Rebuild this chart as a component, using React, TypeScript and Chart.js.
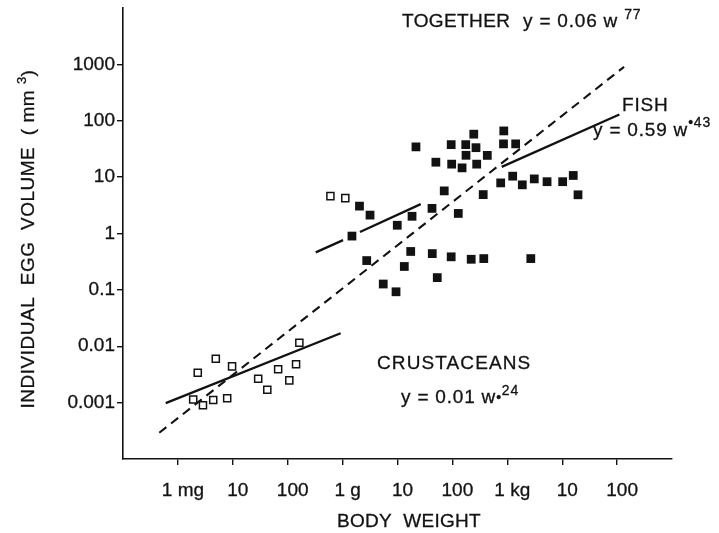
import React, { useEffect, useRef } from "react";
import { Chart, registerables } from "chart.js";

Chart.register(...registerables);

// Body weight in grams, individual egg volume in mm³.
const crustaceanWeight = [0.0023, 0.0049, 0.0097, 0.0019, 0.00286, 0.0044, 0.0079, 0.029, 0.0425, 0.067, 0.107, 0.142, 0.163, 0.6, 1.12];
const crustaceanEggVolume = [0.0034, 0.006, 0.0044, 0.00114, 0.0009, 0.00111, 0.0012, 0.00265, 0.00169, 0.0039, 0.00248, 0.0048, 0.0115, 4.6, 4.24];

const fishWeight = [
  2.03, 3.16, 1.48, 9.9, 18.4, 42.5, 71, 2.75, 17.4, 13.3, 43, 95, 5.5, 9.4, 53,
  50, 97, 128, 220, 373, 2680, 245, 863, 95, 175, 269, 853, 1420, 177, 432,
  150, 277, 364, 758, 1254, 1876, 3100, 5300, 10200, 15900, 19400, 21.7,
];
const fishEggVolume = [
  3.06, 2.12, 0.9, 1.4, 2.02, 2.79, 5.7, 0.331, 0.48, 0.26, 0.44, 0.386, 0.127, 0.0925, 0.165,
  18.4, 17.0, 2.27, 0.349, 0.359, 0.359, 57.8, 66, 37.7, 37.7, 33.3, 38.9, 38.9, 24.4, 24.3,
  14.6, 17.0, 4.9, 7.9, 10.4, 7.3, 9.3, 8.3, 8.3, 10.7, 4.86, 34.4,
];

// Fitted power laws, as end points of the drawn segments (null = break in the line).
const crustaceanFitWeight = [0.0006, 0.92];
const crustaceanFitVolume = [0.00098, 0.017];
const fishFitWeight = [0.324, 1.02, 1.5, 2.07, 26.5, 150, 791, 110000];
const fishFitVolume = [0.462, 0.764, null, 1.06, 3.32, null, 15.2, 129];
const togetherFitWeight = [0.000458, 134000];
const togetherFitVolume = [0.000292, 903];

const weightTicks = [0.001, 0.01, 0.1, 1, 10, 100, 1000, 10000, 100000];
const weightTickLabels = ["1 mg", "10", "100", "1 g", "10", "100", "1 kg", "10", "100"];
const volumeTicks = [0.001, 0.01, 0.1, 1, 10, 100, 1000];
const volumeTickLabels = ["0.001", "0.01", "0.1", "1", "10", "100", "1000"];

const FONT = "'Liberation Sans', Arial, Helvetica, sans-serif";
const INK = "#121212";
const TEXT_STROKE = 0.3;

const pairs = (xs: number[], ys: (number | null)[]) => xs.map((x, i) => ({ x, y: ys[i] }));

type Part = { text: string; size: number; rise?: number };

function drawRich(ctx: CanvasRenderingContext2D, x: number, y: number, parts: Part[], spacing = 0.8) {
  let cx = x;
  ctx.textBaseline = "alphabetic";
  ctx.textAlign = "left";
  ctx.lineWidth = TEXT_STROKE;
  ctx.strokeStyle = INK;
  (ctx as any).letterSpacing = `${spacing}px`;
  for (const p of parts) {
    ctx.font = `${p.size}px ${FONT}`;
    ctx.fillText(p.text, cx, y - (p.rise || 0));
    ctx.strokeText(p.text, cx, y - (p.rise || 0));
    cx += ctx.measureText(p.text).width;
  }
  (ctx as any).letterSpacing = "0px";
  return cx - x;
}

function measureRich(ctx: CanvasRenderingContext2D, parts: Part[], spacing = 0.8) {
  let w = 0;
  (ctx as any).letterSpacing = `${spacing}px`;
  for (const p of parts) {
    ctx.font = `${p.size}px ${FONT}`;
    w += ctx.measureText(p.text).width;
  }
  (ctx as any).letterSpacing = "0px";
  return w;
}

const annotations = {
  id: "annotations",
  afterDraw(chart: Chart) {
    const ctx = chart.ctx;
    ctx.save();
    ctx.fillStyle = INK;

    drawRich(ctx, 402, 27, [{ text: "TOGETHER", size: 19 }], 0.4);
    drawRich(ctx, 523, 27, [
      { text: "y = 0.06 w ", size: 19 },
      { text: "77", size: 14, rise: 8 },
    ]);

    drawRich(ctx, 622, 111, [{ text: "FISH", size: 19 }]);
    drawRich(ctx, 593, 136, [
      { text: "y = 0.59 w", size: 19 },
      { text: "•43", size: 14, rise: 9 },
    ]);

    drawRich(ctx, 377, 369, [{ text: "CRUSTACEANS", size: 19 }], 1.1);
    drawRich(ctx, 401, 403, [
      { text: "y = 0.01 w", size: 19 },
      { text: "•", size: 14, rise: 1 },
      { text: "24", size: 14, rise: 8 },
    ]);

    drawRich(ctx, 337, 527, [{ text: "BODY  WEIGHT", size: 19 }], 0.3);

    // vertical axis title
    const yTitle: Part[] = [
      { text: "INDIVIDUAL  EGG  VOLUME  ( mm ", size: 19 },
      { text: "3", size: 13, rise: 8 },
      { text: ")", size: 19 },
    ];
    const w = measureRich(ctx, yTitle, 0.5);
    ctx.translate(34, 239);
    ctx.rotate(-Math.PI / 2);
    drawRich(ctx, -w / 2, 0, yTitle, 0.5);
    ctx.restore();
  },
};

export default function App() {
  const canvasRef = useRef<HTMLCanvasElement | null>(null);

  useEffect(() => {
    const canvas = canvasRef.current;
    if (!canvas) return;

    const tickFont = { family: FONT, size: 19 };
    const axisGrid = {
      drawOnChartArea: false,
      drawTicks: true,
      tickLength: 6,
      color: INK,
      lineWidth: 1.4,
    };
    const axisBorder = { display: true, color: INK, width: 1.6 };

    const chart = new Chart(canvas, {
      type: "scatter",
      data: {
        datasets: [
          {
            label: "Fish",
            data: pairs(fishWeight, fishEggVolume),
            pointStyle: "rect",
            pointRadius: 6.2,
            backgroundColor: INK,
            borderWidth: 0,
          },
          {
            label: "Crustaceans",
            data: pairs(crustaceanWeight, crustaceanEggVolume),
            pointStyle: "rect",
            pointRadius: 5,
            backgroundColor: "#ffffff",
            borderColor: INK,
            borderWidth: 1.5,
          },
          {
            label: "Fish fit",
            data: pairs(fishFitWeight, fishFitVolume),
            showLine: true,
            spanGaps: false,
            pointRadius: 0,
            borderColor: INK,
            borderWidth: 2.3,
          },
          {
            label: "Crustacean fit",
            data: pairs(crustaceanFitWeight, crustaceanFitVolume),
            showLine: true,
            pointRadius: 0,
            borderColor: INK,
            borderWidth: 2.3,
          },
          {
            label: "Together fit",
            data: pairs(togetherFitWeight, togetherFitVolume),
            showLine: true,
            pointRadius: 0,
            borderColor: INK,
            borderWidth: 2.1,
            borderDash: [9, 6],
          },
        ],
      },
      options: {
        animation: false,
        responsive: false,
        maintainAspectRatio: false,
        layout: { padding: { top: 8, right: 47, left: 0, bottom: 0 } },
        plugins: {
          legend: { display: false },
          tooltip: { enabled: false },
        },
        scales: {
          x: {
            type: "logarithmic",
            min: 0.0001,
            max: 1000000,
            afterBuildTicks: (scale: any) => {
              scale.ticks = weightTicks.map((value) => ({ value }));
            },
            afterFit: (scale: any) => {
              scale.height = 74;
              scale.paddingLeft = 0;
              scale.paddingRight = 0;
            },
            ticks: {
              autoSkip: false,
              maxRotation: 0,
              minRotation: 0,
              padding: 14,
              labelOffset: 5,
              color: INK,
              textStrokeColor: INK,
              textStrokeWidth: TEXT_STROKE,
              font: tickFont,
              callback: (_v: any, i: number) => weightTickLabels[i],
            },
            grid: axisGrid,
            border: axisBorder,
          },
          y: {
            type: "logarithmic",
            min: 0.0001,
            max: 10000,
            afterBuildTicks: (scale: any) => {
              scale.ticks = volumeTicks.map((value) => ({ value }));
            },
            afterFit: (scale: any) => {
              scale.width = 123;
              scale.paddingTop = 0;
              scale.paddingBottom = 0;
            },
            ticks: {
              autoSkip: false,
              padding: 2,
              color: INK,
              textStrokeColor: INK,
              textStrokeWidth: TEXT_STROKE,
              font: tickFont,
              callback: (_v: any, i: number) => volumeTickLabels[i],
            },
            grid: axisGrid,
            border: axisBorder,
          },
        },
      },
      plugins: [annotations],
    });

    return () => chart.destroy();
  }, []);

  return (
    <div style={{ position: "absolute", left: 0, top: 0, width: 719, height: 533, background: "#fff" }}>
      <canvas ref={canvasRef} width={719} height={533} style={{ display: "block", width: 719, height: 533 }} />
    </div>
  );
}
